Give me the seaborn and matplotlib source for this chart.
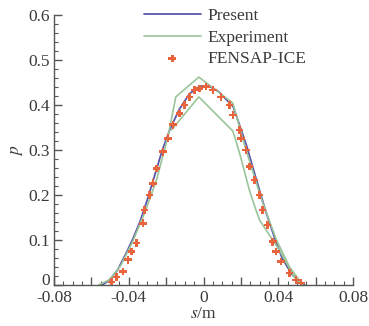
import numpy as np
import pandas as pd
import matplotlib
matplotlib.use("Agg")
import matplotlib.pyplot as plt
import matplotlib.transforms as mtransforms
from matplotlib.ticker import MultipleLocator, FuncFormatter
import seaborn as sns

# Data
present_s = [-0.054, -0.050, -0.046, -0.042, -0.038, -0.034, -0.030, -0.026, -0.022, -0.018,
             -0.013, -0.0075, -0.002, 0.003, 0.008, 0.0159, 0.023, 0.0275, 0.033, 0.038,
             0.042, 0.047, 0.052, 0.054]
present_p = [0.0, 0.012, 0.033, 0.065, 0.10, 0.14, 0.19, 0.245, 0.30, 0.345,
             0.39, 0.425, 0.442, 0.442, 0.43, 0.396, 0.31, 0.245, 0.167, 0.105,
             0.06, 0.025, 0.004, 0.0]

# Experiment: upper and lower branches
exp_up_s = [-0.056, -0.050, -0.044, -0.038, -0.031, -0.025, -0.019, -0.0148, -0.0025,
            0.0157, 0.022, 0.031, 0.039, 0.046, 0.053]
exp_up_p = [0.0, 0.012, 0.045, 0.095, 0.165, 0.235, 0.33, 0.418, 0.462,
            0.404, 0.31, 0.19, 0.1, 0.04, 0.0]
exp_lo_s = [-0.017, -0.0025, 0.0157, 0.0195, 0.0245, 0.028, 0.030, 0.0352, 0.0405, 0.0485, 0.053]
exp_lo_p = [0.345, 0.418, 0.342, 0.29, 0.211, 0.167, 0.144, 0.111, 0.078, 0.018, 0.0]

fensap_s = [-0.0492, -0.0466, -0.043, -0.0404, -0.0386, -0.0359, -0.0324, -0.0315, -0.0288,
            -0.027, -0.0252, -0.0217, -0.019, -0.0164, -0.0128, -0.0101, -0.0075, -0.0048,
            -0.0021, 0.0014, 0.005, 0.0094, 0.0139, 0.0157, 0.0192, 0.0201, 0.0228, 0.0245,
            0.0272, 0.0299, 0.0316, 0.0343, 0.037, 0.0388, 0.0414, 0.0459, 0.0494, 0.0521]
fensap_p = [0.007, 0.018, 0.030, 0.056, 0.074, 0.093, 0.137, 0.167, 0.200,
            0.226, 0.259, 0.296, 0.326, 0.356, 0.381, 0.400, 0.418, 0.433,
            0.437, 0.441, 0.433, 0.418, 0.400, 0.378, 0.344, 0.326, 0.300, 0.263,
            0.233, 0.200, 0.167, 0.133, 0.096, 0.074, 0.052, 0.026, 0.011, 0.004]

sns.set_theme(style="ticks")
plt.rcParams['font.family'] = ['Liberation Serif', 'DejaVu Serif']
plt.rcParams['axes.unicode_minus'] = False
plt.rcParams['mathtext.fontset'] = 'stix'

fig = plt.figure(figsize=(3.69, 3.26), dpi=100)
ax = fig.add_axes([0.146, 0.126, 0.811, 0.828])

sns.lineplot(x=present_s, y=present_p, ax=ax, color='#5b56a8', linewidth=1.3,
             label='Present', sort=False)
sns.lineplot(x=exp_up_s, y=exp_up_p, ax=ax, color='#9ac59a', linewidth=1.2,
             label='Experiment', sort=False)
sns.lineplot(x=exp_lo_s, y=exp_lo_p, ax=ax, color='#9ac59a', linewidth=1.2,
             sort=False)
sns.scatterplot(x=fensap_s, y=fensap_p, ax=ax, color='#e8643c', marker='P', s=30,
                edgecolor='none', label='FENSAP-ICE', zorder=3)

ax.set_xlim(-0.08, 0.08)
ax.set_ylim(0, 0.6)
sns.despine(ax=ax)
for sp in ['left', 'bottom']:
    ax.spines[sp].set_color('#555555')
    ax.spines[sp].set_linewidth(1.0)

ax.xaxis.set_major_locator(MultipleLocator(0.02))
ax.xaxis.set_minor_locator(MultipleLocator(0.005))
ax.yaxis.set_major_locator(MultipleLocator(0.1))
ax.yaxis.set_minor_locator(MultipleLocator(0.02))


def xfmt(v, pos):
    if abs(v) < 1e-9:
        return '0'
    if abs(round(v / 0.04) * 0.04 - v) < 1e-9:
        return f'{v:.2f}'
    return ''


def yfmt(v, pos):
    if abs(v) < 1e-9:
        return '0'
    return f'{v:.1f}'


ax.xaxis.set_major_formatter(FuncFormatter(xfmt))
ax.yaxis.set_major_formatter(FuncFormatter(yfmt))
ax.tick_params(which='both', direction='in', colors='#555555', labelcolor='#3a3a3a',
               labelsize=12.5)
ax.tick_params(which='major', length=6, width=1.0)
ax.tick_params(which='minor', length=3, width=0.8)
ax.tick_params(axis='x', pad=4)
ax.tick_params(axis='y', pad=3)

ax.set_xlabel('$s$/m', fontsize=12.5, color='#3a3a3a', labelpad=0)
ax.set_ylabel('$p$', fontsize=12.5, color='#3a3a3a', labelpad=2)

leg = ax.legend(loc='upper left', bbox_to_anchor=(0.30, 1.025), frameon=False,
                fontsize=12.5, handlelength=3.3, handletextpad=0.35,
                labelspacing=0.3, borderpad=0, borderaxespad=0)
for t in leg.get_texts():
    t.set_color('#3a3a3a')

# lift the y "0" a little so it clears the x labels
fig.canvas.draw()
lift = mtransforms.ScaledTranslation(0, 4 / 72, fig.dpi_scale_trans)
for tk in ax.yaxis.get_major_ticks():
    if abs(tk.get_loc()) < 1e-9:
        tk.label1.set_transform(tk.label1.get_transform() + lift)

fig.savefig('out.png', dpi=100)
